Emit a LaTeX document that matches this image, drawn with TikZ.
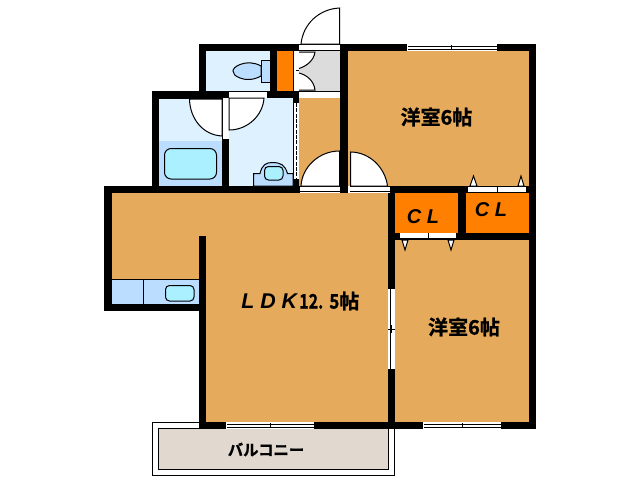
\documentclass[tikz,border=0pt]{standalone}
\usepackage{fontspec}
\newfontfamily\jpf[BoldFont={Noto Sans CJK JP Bold},BoldFeatures={FakeBold=1.2}]{Noto Sans CJK JP}
\newfontfamily\latf[BoldFeatures={FakeBold=1}]{Liberation Sans}
\definecolor{room}{HTML}{E5AA5C}
\definecolor{cl}{HTML}{FF8000}
\definecolor{wet}{HTML}{DDF1FF}
\definecolor{fix}{HTML}{BBDDFF}
\definecolor{tub}{HTML}{AAF0FF}
\definecolor{entry}{HTML}{DCDCDC}
\definecolor{balc}{HTML}{E1D8D0}
\tikzset{
  x=0.75pt,y=-0.75pt,
  wall/.style={fill=black},
  thin line/.style={draw=black,line width=0.75pt},
  swing/.style={fill=white,draw=black,line width=0.75pt},
  opening/.style={fill=white},
  fixture/.style={fill=fix,draw=black,line width=0.75pt},
  basin/.style={fill=tub,draw=black,line width=0.75pt,rounded corners=3pt},
  jp/.style={font=\jpf\bfseries\fontsize{15}{15}\selectfont,inner sep=0pt},
  lat/.style={font=\latf\bfseries\itshape\fontsize{15}{15}\selectfont,inner sep=0pt},
  hair/.style={draw=black,line width=0.75pt}
}
\begin{document}
\begin{tikzpicture}
\useasboundingbox (0,0) rectangle (640,480);
\fill[white] (0,0) rectangle (640,480);
% balcony
\draw[thin line,fill=white] (152.7,422.5) rectangle (394.7,475.7);
\draw[thin line,fill=balc] (158.5,428) rectangle (388.5,469);
% walls as black silhouettes
\fill[wall] (199,44) rectangle (536,99);
\fill[wall] (340,44) rectangle (536,193);
\fill[wall] (152,91) rectangle (348,193);
\fill[wall] (104,186) rectangle (536,311);
\fill[wall] (199,186) rectangle (536,429);
% room floors
\fill[wet] (206,51) rectangle (270,91);
\fill[cl] (277,51) rectangle (293,91);
\fill[entry] (299,51) rectangle (340,91);
\fill[wet] (159,99) rectangle (222,141);
\fill[fix] (159,141) rectangle (222,186);
\fill[wet] (229,98) rectangle (293,186);
\fill[room] (299,98) rectangle (340,186);
\fill[room] (348,51) rectangle (529,186);
\fill[cl] (395,193) rectangle (458,233);
\fill[cl] (466,193) rectangle (529,233);
\fill[room] (395,240) rectangle (529,422);
\fill[room] (206,193) rectangle (388,422);
\fill[room] (112,193) rectangle (206,236);
\fill[room] (112,236) rectangle (199,279);
\fill[fix] (112,279) rectangle (199,304);
\draw[hair] (112,279.5) -- (199,279.5);
\draw[hair] (143.5,279) -- (143.5,304);
% fixtures
\draw[basin] (165.5,285.5) rectangle (194,301);
\draw[basin,rounded corners=5pt] (164.5,148.5) rectangle (216.5,179);
\draw[fixture] (261,60.5) rectangle (270,82);
\draw[fixture] (261,66) .. controls (254,62) and (246,62) .. (240,64.5) .. controls (235,66.5) and (233,69) .. (233,71) .. controls (233,74) and (235,76) .. (240,78) .. controls (246,80.5) and (254,80) .. (261,76) -- cycle;
\draw[fixture] (253.5,186) -- (253.5,173.5) -- (260,173.5) .. controls (262,165) and (266,162.5) .. (272,162.5) .. controls (281,162.5) and (285,165) .. (287.5,173.5) -- (293,173.5) -- (293,186) -- cycle;
\draw[basin] (264.5,166.5) rectangle (283,180);
% openings
\fill[opening] (299,44) rectangle (340,51);
\draw[hair] (299,44.5) -- (340,44.5);
\draw[hair] (299,50.5) -- (340,50.5);
\fill[opening] (299,91) rectangle (340,98);
\draw[hair] (299,91.5) -- (340,91.5);
\fill[opening] (229,91) rectangle (267,98);
\draw[hair] (229,91.5) -- (267,91.5);
\fill[opening] (222,98) rectangle (229,139);
\draw[hair] (222.5,98) -- (222.5,139);
\fill[opening] (293,51) rectangle (299,91);
\draw[hair] (293.5,51) -- (293.5,91);
\draw[hair] (296,70.5) -- (299,70.5);
\fill[opening] (293,103) rectangle (299,179);
\draw[hair] (293.5,103) -- (293.5,179);
\draw[hair,dashed,dash pattern=on 3pt off 1pt] (296,103) -- (296,179);
\fill[opening] (300,186) rectangle (340,193);
\draw[hair] (300,186.5) -- (340,186.5);
\draw[hair] (300,191.5) -- (340,191.5);
\fill[opening] (348,186) rectangle (350,193);
\fill[opening] (350,186) rectangle (390,193);
\draw[hair] (350,186.5) -- (390,186.5);
\draw[hair] (350,191.5) -- (390,191.5);
% door swings
\draw[swing] (301,44) .. controls (303,24) and (319,9) .. (339.5,8) -- (339.5,44) -- cycle;
\draw[swing] (189.5,99) .. controls (190,119) and (203,135) .. (222,136) -- (222,99) -- cycle;
\draw[swing] (264,98) .. controls (263,115) and (248,130) .. (229,130) -- (229,98) -- cycle;
\draw[swing] (301,186) .. controls (302,167) and (319,151) .. (339.5,151) -- (339.5,186) -- cycle;
\draw[swing] (350.5,152) .. controls (369,152) and (385,167) .. (387.5,186) -- (350.5,186) -- cycle;
\fill[white] (299,52) -- (315,52) .. controls (314,60) and (307,66) .. (299,68.5) -- cycle;
\draw[hair] (299,52) -- (315,52) .. controls (314,60) and (307,66) .. (299,68.5);
\fill[white] (299,73) .. controls (307,75) and (314,81) .. (315,90) -- (299,90) -- cycle;
\draw[hair] (299,73) .. controls (307,75) and (314,81) .. (315,90) -- (299,90);
% closet doors
\fill[opening] (468,186) rectangle (526,192);
\draw[hair] (468,186.5) -- (526,186.5);
\draw[hair] (497.5,186) -- (497.5,192);
\draw[hair,fill=white] (470,186) -- (473.5,176) -- (477,186) -- cycle;
\draw[hair,fill=white] (518,186) -- (521,176) -- (524,186) -- cycle;
\fill[opening] (400,233) rectangle (456,239);
\draw[hair] (400,238.5) -- (456,238.5);
\draw[hair] (428.5,233) -- (428.5,239);
\draw[hair,fill=white] (402,240) -- (405,250) -- (408,240) -- cycle;
\draw[hair,fill=white] (448,240) -- (451,250) -- (454,240) -- cycle;
% windows
\fill[opening] (407,44) rectangle (497,51);
\draw[hair] (408,46.5) -- (497,46.5);
\draw[hair] (408,49) -- (497,49);
\draw[hair] (447,46) -- (457,46);
\draw[hair] (451.5,45) -- (451.5,50);
\fill[opening] (226,422) rectangle (314,429);
\draw[hair] (227,424.5) -- (314,424.5);
\draw[hair] (227,427) -- (314,427);
\draw[hair] (270.5,423) -- (270.5,428);
\fill[opening] (423,422) rectangle (501,429);
\draw[hair] (424,424.5) -- (501,424.5);
\draw[hair] (424,427) -- (501,427);
\draw[hair] (462.5,423) -- (462.5,428);
\fill[opening] (388,289) rectangle (395,369);
\draw[hair] (390,289) -- (390,369);
\draw[hair] (391.5,325) -- (391.5,333);
\draw[hair] (388,329.5) -- (395,329.5);
\draw[hair] (388,369) -- (395,369);
% text
\node[jp,anchor=center] (room1) at (436.5,117) {洋室6帖};
\node[jp,anchor=center] (room2) at (464,327) {洋室6帖};
\node[lat,anchor=west,font=\latf\bfseries\itshape\fontsize{16}{16}\selectfont] (ldk) at (241,301) {L\hspace{4.5pt}D\hspace{4.5pt}K};
\node[jp,anchor=west] (size) at (299,301) {\scalebox{0.8}[1]{12.}\hspace{4.5pt}\scalebox{0.85}[1]{5}帖};
\node[lat,anchor=center] (cl1) at (423,217) {C L};
\node[lat,anchor=center] (cl2) at (491,210) {C L};
\node[jp,anchor=center,font=\jpf\bfseries\fontsize{11.5}{12}\selectfont] (bal) at (266,449.5) {バルコニー};
\end{tikzpicture}
\end{document}
